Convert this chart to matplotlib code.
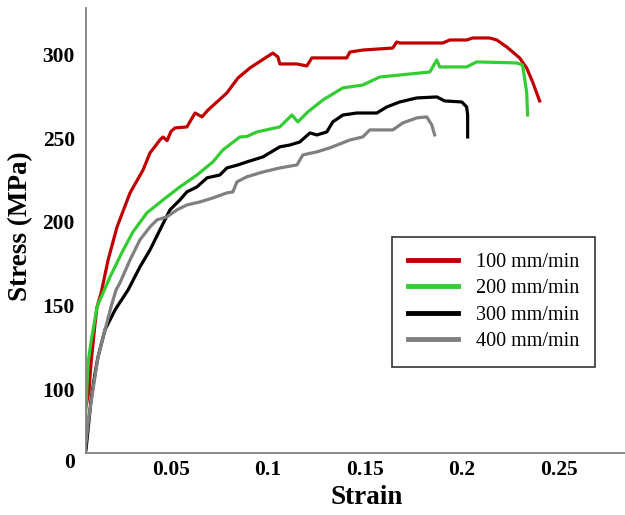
import matplotlib
matplotlib.use("Agg")
import matplotlib.pyplot as plt

# ---- data (strain, stress in MPa) ----
strain_100 = [0.0052, 0.0055, 0.0057, 0.0062, 0.0078, 0.0088, 0.0109, 0.0119, 0.0140, 0.0176,
              0.0222, 0.0289, 0.0356, 0.0392, 0.0443, 0.0459, 0.0480, 0.0500, 0.0521, 0.0582,
              0.0624, 0.0660, 0.0691, 0.0737, 0.0788, 0.0845, 0.0907, 0.0994, 0.1025, 0.1051,
              0.1061, 0.1149, 0.1200, 0.1226, 0.1267, 0.1406, 0.1422, 0.1488, 0.1643, 0.1663,
              0.1679, 0.1901, 0.1937, 0.2024, 0.2055, 0.2143, 0.2179, 0.2231, 0.2297, 0.2333,
              0.2364, 0.2400]
stress_100 = [64.0, 75.0, 89.0, 89.6, 99.8, 115.9, 139.7, 149.3, 157.6, 177.3,
              197.0, 217.3, 231.0, 241.2, 248.9, 250.7, 248.5, 254.0, 256.1, 256.7,
              265.0, 262.7, 266.8, 271.6, 277.0, 285.9, 291.9, 298.5, 300.8, 298.5,
              294.3, 294.3, 293.1, 297.9, 297.9, 297.9, 301.4, 302.6, 303.8, 307.4,
              306.8, 306.8, 308.6, 308.6, 309.8, 309.8, 308.6, 304.4, 297.9, 291.9,
              283.5, 272.2]

strain_200 = [0.0057, 0.0062, 0.0073, 0.0090, 0.0119, 0.0186, 0.0253, 0.0304, 0.0376, 0.0459,
              0.0546, 0.0634, 0.0716, 0.0768, 0.0855, 0.0891, 0.0943, 0.1061, 0.1123, 0.1154,
              0.1205, 0.1283, 0.1386, 0.1488, 0.1576, 0.1679, 0.1834, 0.1870, 0.1885, 0.2024,
              0.2075, 0.2281, 0.2312, 0.2333, 0.2338]
stress_200 = [68.0, 90.0, 116.0, 130.0, 149.3, 167.2, 183.0, 194.0, 205.4, 213.1,
              220.9, 228.0, 235.8, 243.0, 250.7, 251.0, 253.7, 256.7, 263.8, 259.7,
              265.6, 272.8, 280.0, 281.7, 286.5, 287.7, 289.5, 296.7, 292.5, 292.5,
              295.5, 294.9, 293.7, 277.6, 263.8]

strain_300 = [0.0062, 0.0088, 0.0109, 0.0124, 0.0160, 0.0212, 0.0279, 0.0340, 0.0392, 0.0443,
              0.0495, 0.0546, 0.0582, 0.0634, 0.0686, 0.0752, 0.0788, 0.0845, 0.0891, 0.0974,
              0.1061, 0.1113, 0.1164, 0.1216, 0.1252, 0.1303, 0.1334, 0.1386, 0.1458, 0.1561,
              0.1612, 0.1679, 0.1767, 0.1870, 0.1911, 0.1999, 0.2024, 0.2029, 0.2029]
stress_300 = [63.9, 93.8, 109.9, 119.4, 135.6, 147.5, 159.4, 173.1, 183.3, 195.2,
              207.2, 213.1, 217.9, 220.9, 226.3, 228.0, 232.2, 234.0, 235.8, 238.8,
              244.8, 245.9, 247.7, 253.1, 251.9, 253.7, 259.7, 263.8, 265.0, 265.0,
              268.6, 271.6, 274.0, 274.6, 272.2, 271.6, 268.6, 263.8, 250.7]

strain_400 = [0.0057, 0.0073, 0.0098, 0.0124, 0.0160, 0.0191, 0.0217, 0.0237, 0.0289, 0.0340,
              0.0392, 0.0428, 0.0479, 0.0531, 0.0582, 0.0649, 0.0716, 0.0788, 0.0819, 0.0840,
              0.0891, 0.0974, 0.1061, 0.1149, 0.1180, 0.1252, 0.1319, 0.1422, 0.1488, 0.1525,
              0.1643, 0.1695, 0.1767, 0.1818, 0.1844, 0.1859]
stress_400 = [62.8, 80.1, 99.8, 119.4, 135.6, 149.3, 159.4, 163.6, 177.3, 189.3,
              197.0, 201.2, 203.0, 207.2, 210.1, 211.9, 214.3, 217.3, 217.9, 223.9,
              226.9, 229.8, 232.2, 234.0, 240.0, 241.8, 244.2, 248.9, 250.7, 254.9,
              254.9, 259.1, 262.1, 262.7, 257.9, 251.9]

series_labels = ["100 mm/min", "200 mm/min", "300 mm/min", "400 mm/min"]
series_colors = ["#C00000", "#33CC33", "#000000", "#808080"]

x_ticks = [0.05, 0.1, 0.15, 0.2, 0.25]
x_tick_labels = ["0.05", "0.1", "0.15", "0.2", "0.25"]
y_ticks = [62, 100, 150, 200, 250, 300]
y_tick_labels = ["0", "100", "150", "200", "250", "300"]

# ---- figure ----
fig = plt.figure(figsize=(6.25, 5.15), dpi=100)
ax = fig.add_axes([86 / 625, 62 / 515, 539 / 625, 445 / 515])

data = [(strain_100, stress_100), (strain_200, stress_200),
        (strain_300, stress_300), (strain_400, stress_400)]
for (xs, ys), lab, col in zip(data, series_labels, series_colors):
    ax.plot(xs, ys, color=col, lw=2.3, label=lab, solid_joinstyle="round")

ax.set_xlim(0.0062, 0.284)
ax.set_ylim(62, 327.7)

for s in ["top", "right"]:
    ax.spines[s].set_visible(False)
for s in ["left", "bottom"]:
    ax.spines[s].set_color("#808080")
    ax.spines[s].set_linewidth(1.3)

tick_font = dict(family="Liberation Serif", weight="bold", size=15.5)
ax.set_xticks(x_ticks)
ax.set_xticklabels(x_tick_labels, fontdict=tick_font)
ax.set_yticks(y_ticks)
ax.set_yticklabels(y_tick_labels, fontdict=tick_font)
ax.tick_params(axis="both", length=0)
ax.tick_params(axis="x", pad=5)
ax.tick_params(axis="y", pad=8)
# the "0" label sits just below the axis line in the reference
ax.yaxis.get_major_ticks()[0].label1.set_verticalalignment("top")

label_font = dict(family="Liberation Serif", weight="bold", size=19.5)
ax.set_xlabel("Strain", fontdict=label_font)
ax.set_ylabel("Stress (MPa)", fontdict=label_font)
ax.xaxis.set_label_coords(0.521, -0.072)
ax.yaxis.set_label_coords(-0.098, 0.510)

leg = ax.legend(loc="upper left", bbox_to_anchor=(0.568, 0.485), borderaxespad=0,
                prop=dict(family="Liberation Serif", size=14.5),
                handlelength=2.5, handletextpad=0.9, labelspacing=0.36,
                borderpad=0.78, fancybox=False, framealpha=1, edgecolor="#333333")
leg.get_frame().set_linewidth(1.2)
for h in leg.get_lines():
    h.set_linewidth(3.5)

fig.savefig("out.png", dpi=100)
